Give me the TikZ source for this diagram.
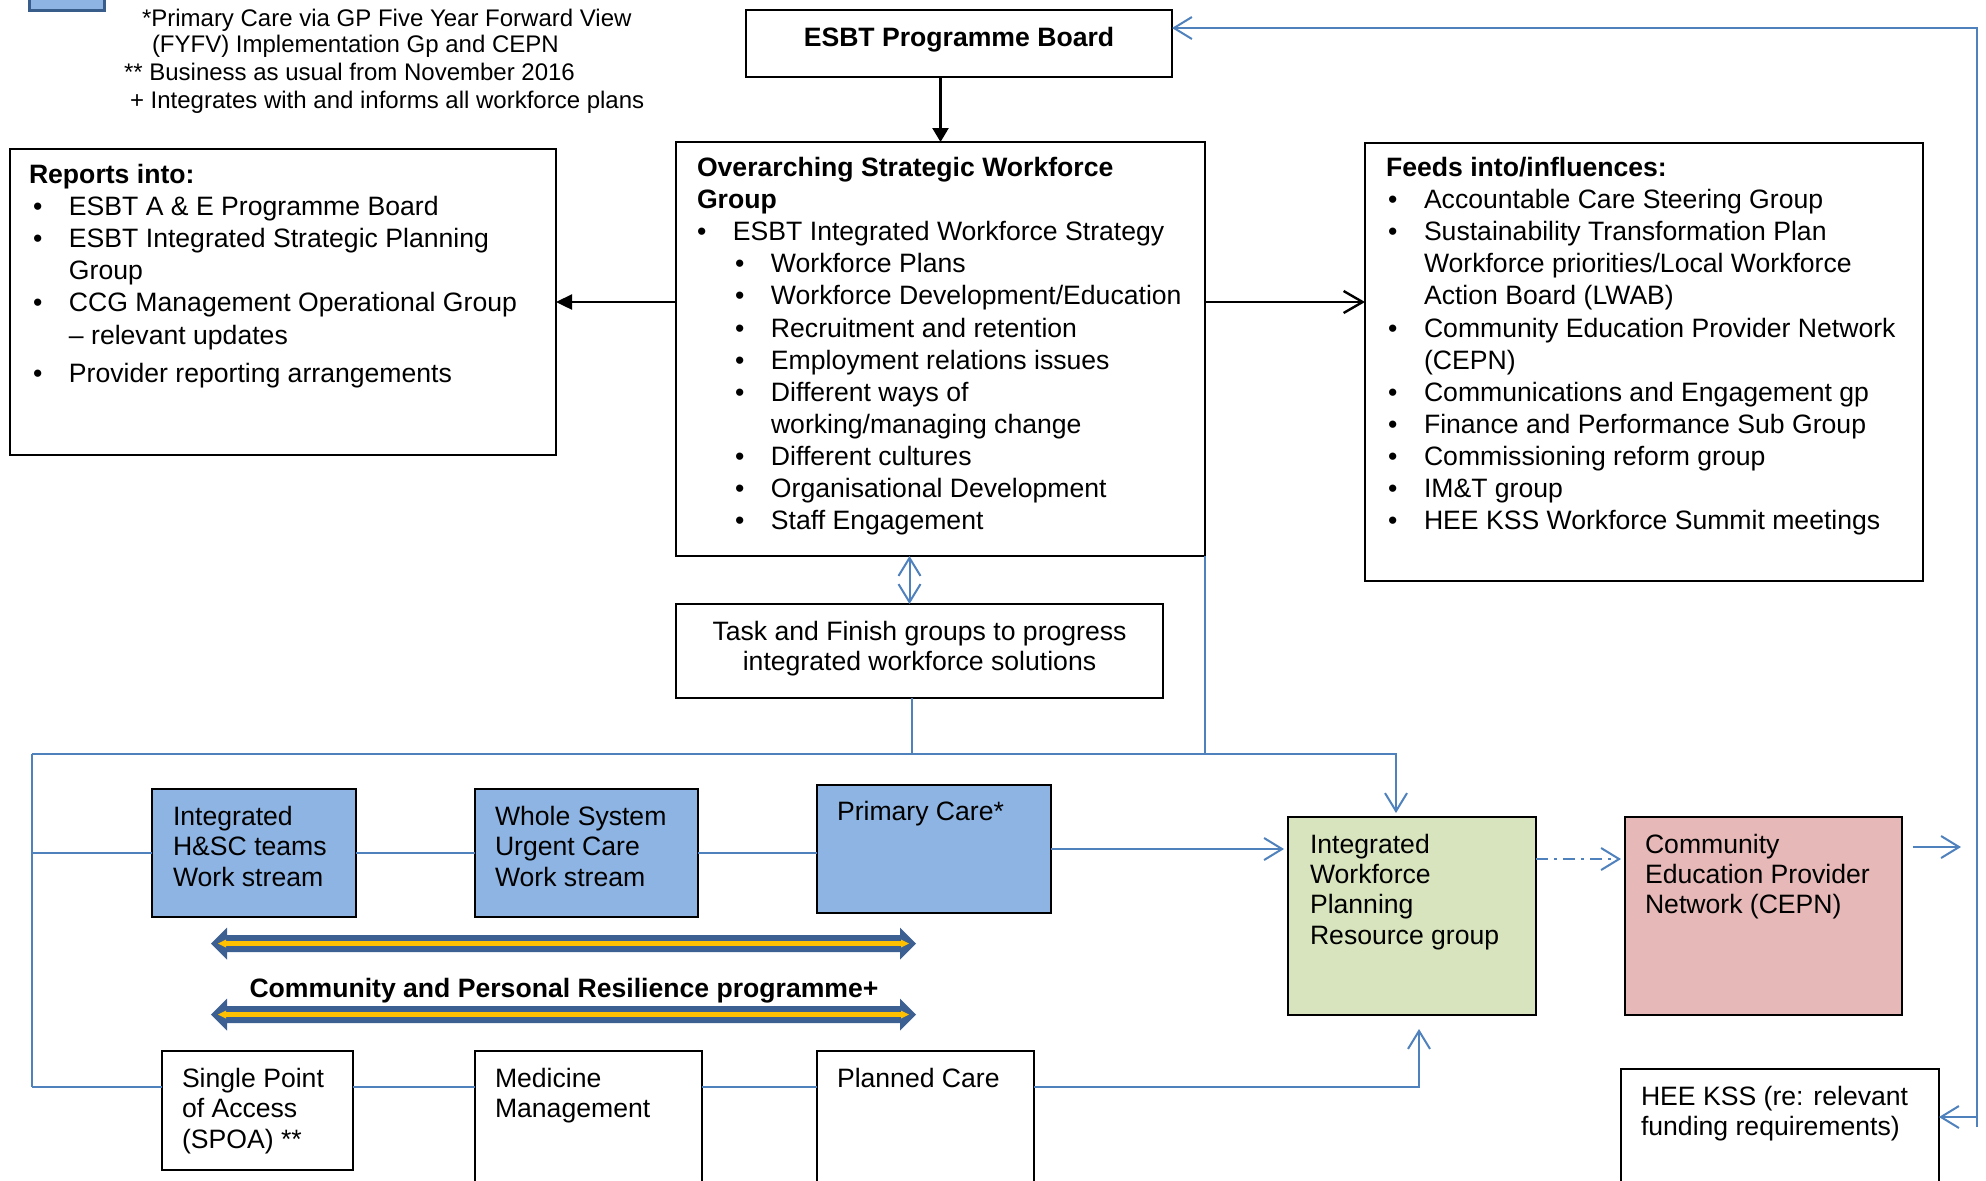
\documentclass[tikz,border=0pt]{standalone}
\usepackage{fontspec}
\setmainfont{Liberation Sans}
\usetikzlibrary{arrows.meta}
\definecolor{cblue}{RGB}{79,129,189}
\definecolor{lboxblue}{RGB}{141,180,226}
\definecolor{legendblue}{RGB}{56,93,138}
\definecolor{bandblue}{RGB}{60,96,145}
\definecolor{bandyellow}{RGB}{255,192,0}
\definecolor{gbox}{RGB}{215,228,189}
\definecolor{pbox}{RGB}{230,184,183}
\newcommand\fa{\fontsize{13.3}{16.05}\selectfont}
\newcommand\fb{\fontsize{13.3}{15.2}\selectfont}
\newcommand\fnote{\fontsize{12}{13.7}\selectfont}
\newcommand\bul{\makebox[18pt][l]{•}}
\newcommand\tl[1]{\begin{tabular}[t]{@{}l@{}}#1\end{tabular}}
\newcommand\tc[1]{\begin{tabular}[t]{@{}c@{}}#1\end{tabular}}
\tikzset{
  box/.style={draw=black, line width=0.6pt, inner sep=0pt, outer sep=0pt, anchor=north west},
  txt/.style={inner sep=0pt, outer sep=0pt, anchor=base west},
  conn/.style={draw=cblue, line width=1pt, >={Straight Barb[length=9pt,width=11pt]}},
  blk/.style={draw=black, line width=1.2pt},
}
\begin{document}
\begin{tikzpicture}[x=0.5pt,y=-0.5pt]
\path[use as bounding box, clip] (0,0) rectangle (1986,1180);
\fill[white] (0,0) rectangle (1986,1180);

% legend fragment and notes
\node[draw=legendblue, fill=lboxblue, line width=1.5pt, inner sep=0pt, outer sep=0pt,
      anchor=north west, minimum width=37.5pt, minimum height=10pt] (legend) at (29,-10) {};
\node[txt, font=\fnote] (noteA) at (142,26.6) {*Primary Care via GP Five Year Forward View};
\node[txt, font=\fnote] (noteB) at (152,52.6) {(FYFV) Implementation Gp and CEPN};
\node[txt, font=\fnote] (noteC) at (124,80.6) {** Business as usual from November 2016};
\node[txt, font=\fnote] (noteD) at (130,108.6) {+ Integrates with and informs all workforce plans};

% boxes
\node[box, minimum width=213pt, minimum height=33.5pt] (esbt) at (746,10) {};
\node[box, minimum width=264.5pt, minimum height=207pt] (over) at (676,142) {};
\node[box, minimum width=273pt, minimum height=153pt] (reports) at (10,149) {};
\node[box, minimum width=279pt, minimum height=219pt] (feeds) at (1365,143) {};
\node[box, minimum width=243.5pt, minimum height=47pt] (task) at (676,604) {};
\node[box, fill=lboxblue, minimum width=102pt, minimum height=64pt] (ihsc) at (152,789) {};
\node[box, fill=lboxblue, minimum width=111.5pt, minimum height=64pt] (whole) at (475,789) {};
\node[box, fill=lboxblue, minimum width=117pt, minimum height=64pt] (primary) at (817,785) {};
\node[box, fill=gbox, minimum width=124pt, minimum height=99pt] (green) at (1288,817) {};
\node[box, fill=pbox, minimum width=138.5pt, minimum height=99pt] (cepn) at (1625,817) {};
\node[box, minimum width=159pt, minimum height=75pt] (hee) at (1621,1069) {};
\node[box, minimum width=95.5pt, minimum height=59.5pt] (spoa) at (162,1051) {};
\node[box, minimum width=113.5pt, minimum height=75pt] (med) at (475,1051) {};
\node[box, minimum width=108.5pt, minimum height=75pt] (planned) at (817,1051) {};

% texts
\node[inner sep=0pt, anchor=base, font=\fa\bfseries] (esbtT) at (959,46.5) {ESBT Programme Board};
\node[txt, font=\fa] (reportsT) at (29,183.5) {\tl{\textbf{Reports into:}\\
\hspace*{2pt}\bul ESBT A \& E Programme Board\\
\hspace*{2pt}\bul ESBT Integrated Strategic Planning\\
\hspace*{20pt}Group\\
\hspace*{2pt}\bul CCG Management Operational Group\\
\hspace*{20pt}– relevant updates\\[3pt]
\hspace*{2pt}\bul Provider reporting arrangements}};
\node[txt, font=\fa] (overT) at (697,176.5) {\tl{\textbf{Overarching Strategic Workforce}\\
\textbf{Group}\\
\bul ESBT Integrated Workforce Strategy\\
\hspace*{19pt}\bul Workforce Plans\\
\hspace*{19pt}\bul Workforce Development/Education\\
\hspace*{19pt}\bul Recruitment and retention\\
\hspace*{19pt}\bul Employment relations issues\\
\hspace*{19pt}\bul Different ways of\\
\hspace*{37pt}working/managing change\\
\hspace*{19pt}\bul Different cultures\\
\hspace*{19pt}\bul Organisational Development\\
\hspace*{19pt}\bul Staff Engagement}};
\node[txt, font=\fa] (feedsT) at (1386,176.5) {\tl{\textbf{Feeds into/influences:}\\
\hspace*{1pt}\bul Accountable Care Steering Group\\
\hspace*{1pt}\bul Sustainability Transformation Plan\\
\hspace*{19pt}Workforce priorities/Local Workforce\\
\hspace*{19pt}Action Board (LWAB)\\
\hspace*{1pt}\bul Community Education Provider Network\\
\hspace*{19pt}(CEPN)\\
\hspace*{1pt}\bul Communications and Engagement gp\\
\hspace*{1pt}\bul Finance and Performance Sub Group\\
\hspace*{1pt}\bul Commissioning reform group\\
\hspace*{1pt}\bul IM\&T group\\
\hspace*{1pt}\bul HEE KSS Workforce Summit meetings}};
\node[inner sep=0pt, anchor=base, font=\fb] (taskT) at (919.5,640.5) {\tc{Task and Finish groups to progress\\integrated workforce solutions}};
\node[txt, font=\fb] (ihscT) at (173,825.5) {\tl{Integrated\\H\&SC teams\\Work stream}};
\node[txt, font=\fb] (wholeT) at (495,825.5) {\tl{Whole System\\Urgent Care\\Work stream}};
\node[txt, font=\fb] (primT) at (837,820.5) {Primary Care*};
\node[txt, font=\fb] (greenT) at (1310,853) {\tl{Integrated\\Workforce\\Planning\\Resource group}};
\node[txt, font=\fb] (cepnT) at (1645,853) {\tl{Community\\Education Provider\\Network (CEPN)}};
\node[txt, font=\fb] (heeT) at (1641,1105.5) {\tl{HEE KSS (re: relevant\\funding requirements)}};
\node[txt, font=\fb] (spoaT) at (182,1087.5) {\tl{Single Point\\of Access\\(SPOA) **}};
\node[txt, font=\fb] (medT) at (495,1087.5) {\tl{Medicine\\Management}};
\node[txt, font=\fb] (planT) at (837,1087.5) {Planned Care};
\node[inner sep=0pt, anchor=base, font=\fb\bfseries] (cprpT) at (564,997.5) {Community and Personal Resilience programme+};

% band arrows
\foreach \c in {943.5,1014.5}{
  \begin{scope}[shift={(0,\c)}]
    \fill[bandblue] (211,0) -- (227,-16) -- (227,-8.5) -- (900,-8.5) -- (900,-16) -- (916,0)
      -- (900,16) -- (900,8.5) -- (227,8.5) -- (227,16) -- cycle;
    \fill[bandyellow] (218,0) -- (226,-4) -- (226,-2.4) -- (901,-2.4) -- (901,-4) -- (909,0)
      -- (901,4) -- (901,2.4) -- (226,2.4) -- (226,4) -- cycle;
  \end{scope}
}

% coordinates
\coordinate (busL) at (32,754);
\coordinate (busR) at (1396,754);
\coordinate (botL) at (32,1087);
\coordinate (botR) at (1419,1087);
\coordinate (rtop) at (1977,28);
\coordinate (rbot) at (1977,1127);
\coordinate (rhee) at (1977,1117);
\coordinate (fa1) at (1913,847);
\coordinate (fa2) at (1961,847);

% black connectors
\draw[blk, -{Triangle[length=7pt,width=8pt]}] (esbt.south -| over.north) -- (over.north);
\draw[blk, -{Triangle[length=8pt,width=7.5pt]}] (over.west |- reports.east) -- (reports.east);
\draw[blk, -{Straight Barb[length=9.5pt,width=11pt]}] (over.east |- reports.east) -- (feeds.west |- reports.east);

% blue connectors
\draw[conn, <->] ([xshift=-5pt]task.north) -- ([xshift=-5pt]task.north |- over.south);
\draw[conn] ([xshift=-4pt]task.south) -- ([xshift=-4pt]task.south |- busL);
\draw[conn] (over.south east) -- (over.south east |- busL);
\draw[conn, ->, shorten >=2pt] (busL) -- (busR) -- (busR |- green.north);
\draw[conn] (busL) -- (botL);
\draw[conn] (busL |- ihsc.west) -- (ihsc.west);
\draw[conn] (ihsc.east) -- (whole.west);
\draw[conn] (whole.east) -- (whole.east -| primary.west);
\draw[conn, ->, shorten >=2pt] (primary.east) -- (primary.east -| green.west);
\draw[conn, ->, shorten >=2pt, dash pattern=on 6pt off 3pt on 1.5pt off 3pt] ([yshift=-21pt]green.north east) -- ([yshift=-21pt]cepn.north west);
\draw[conn, ->] (fa1) -- (fa2);
\draw[conn] (botL) -- (botL -| spoa.west);
\draw[conn] (botL -| spoa.east) -- (botL -| med.west);
\draw[conn] (botL -| med.east) -- (botL -| planned.west);
\draw[conn, ->, shorten >=7pt] (botL -| planned.east) -- (botR) -- (botR |- green.south);
\draw[conn, ->] (rbot) -- (rtop) -- (rtop -| esbt.east);
\draw[conn, ->] (rhee) -- (rhee -| hee.east);
\end{tikzpicture}
\end{document}
